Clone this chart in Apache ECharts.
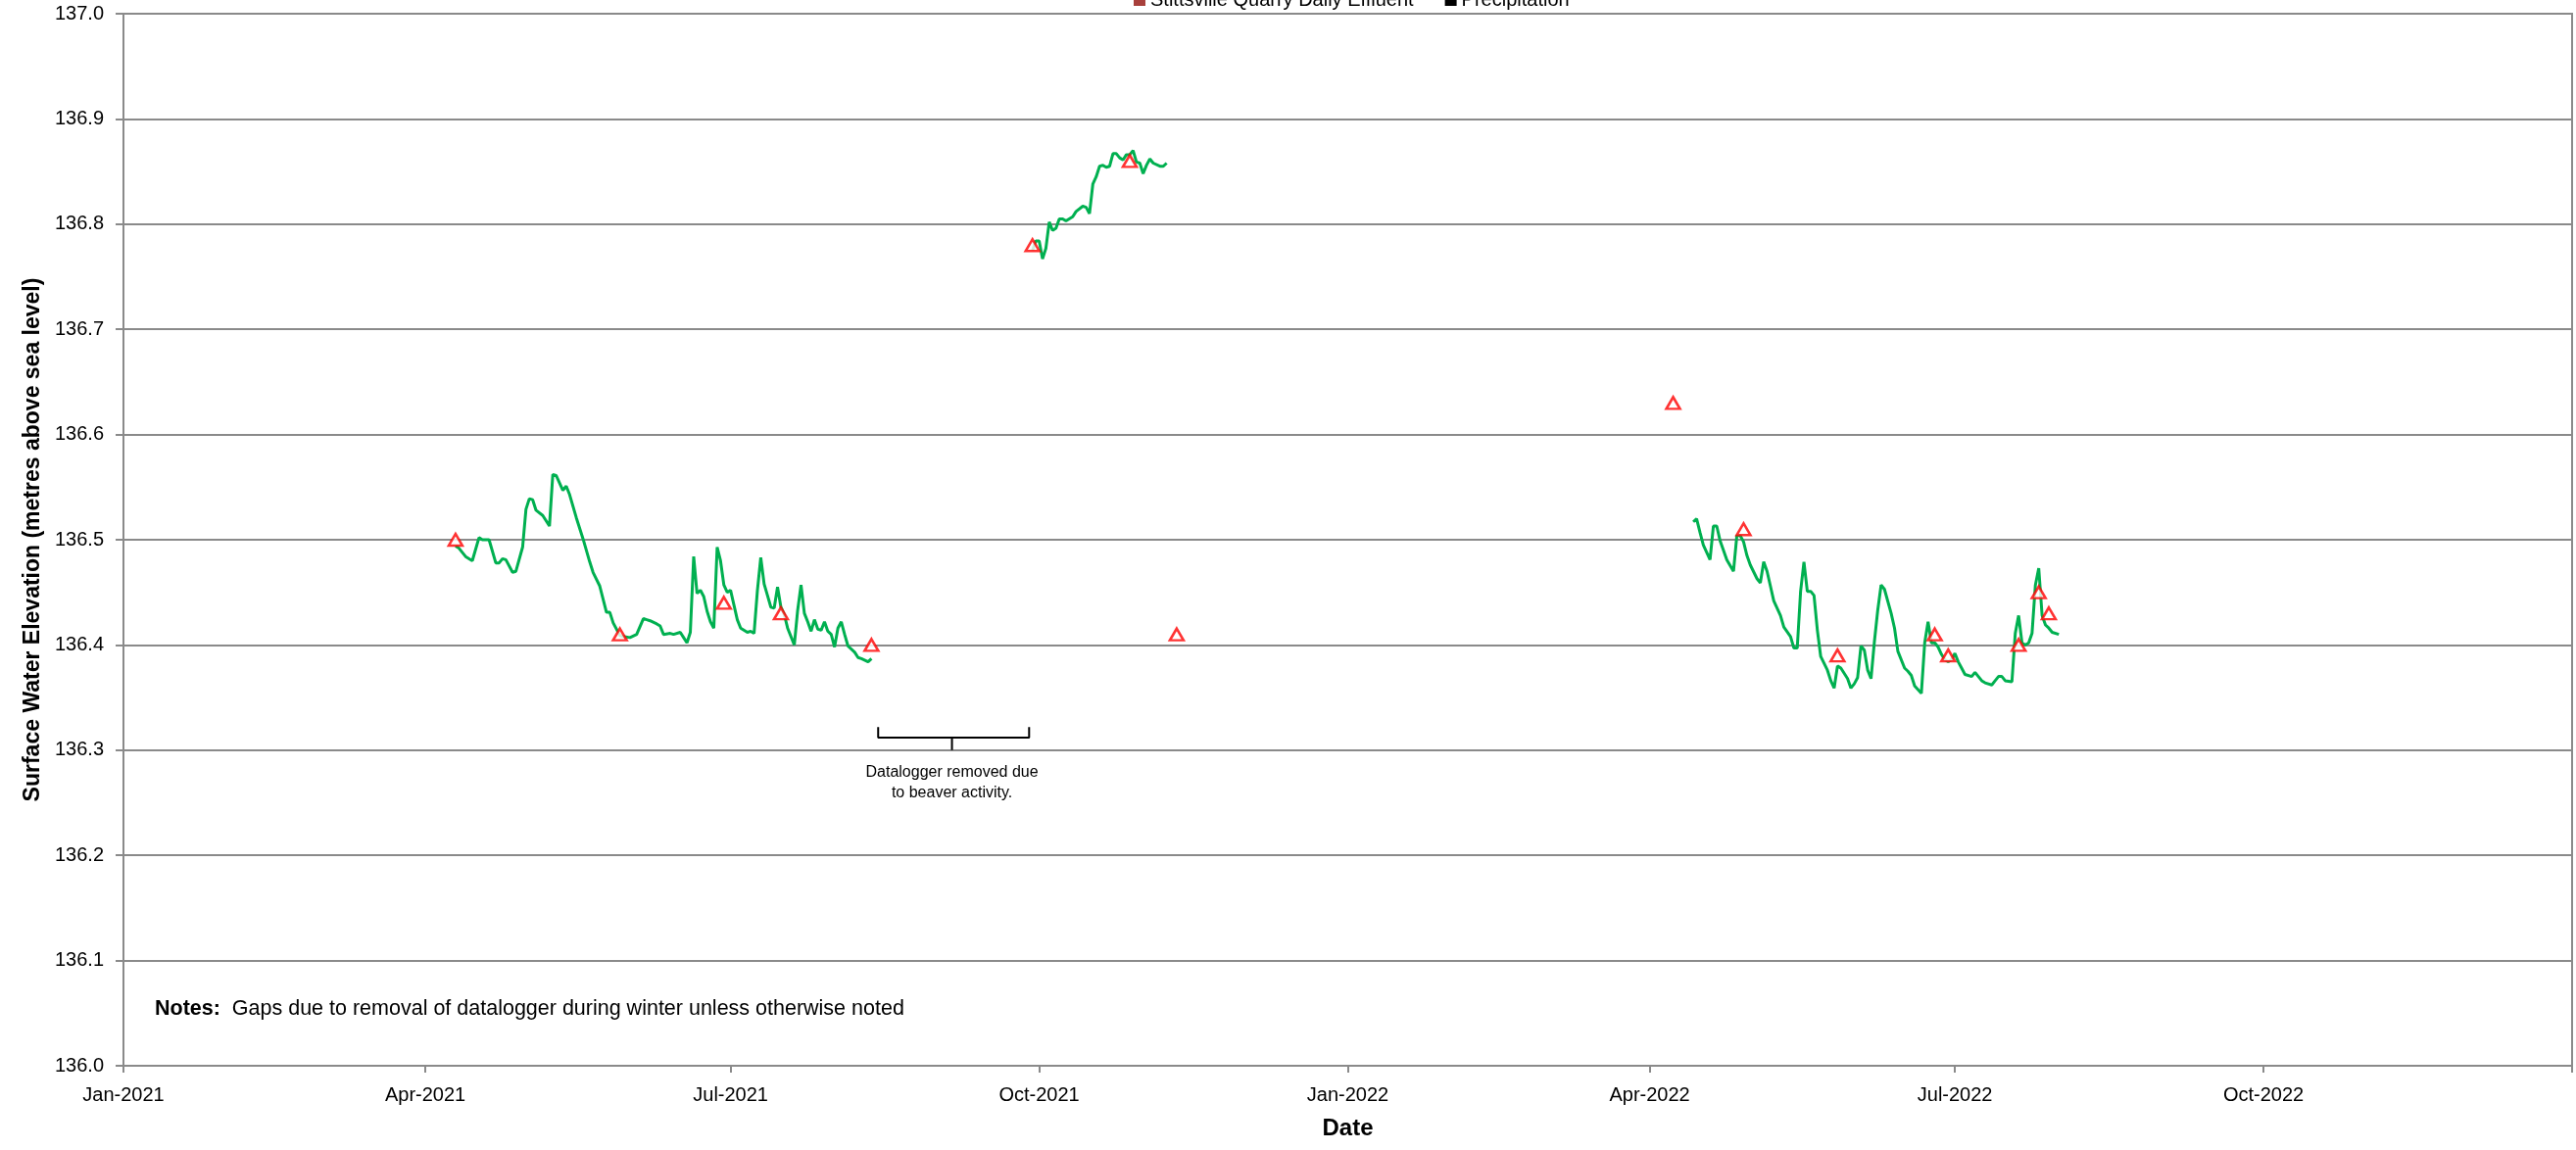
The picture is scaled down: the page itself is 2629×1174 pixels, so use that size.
<!DOCTYPE html>
<html>
<head>
<meta charset="utf-8">
<script src="https://cdn.jsdelivr.net/npm/echarts@6/dist/echarts.min.js"></script>
<style>
html,body{margin:0;padding:0;background:#fff;}
#chart{width:2629px;height:1174px;}
</style>
</head>
<body>
<div id="chart"></div>
<script>
// ---------- DATA ----------
const xTickDates = ['2021-01-01','2021-04-01','2021-07-01','2021-10-01','2022-01-01','2022-04-01','2022-07-01','2022-10-01','2023-01-01'];
const xTickLabels = ['Jan-2021','Apr-2021','Jul-2021','Oct-2021','Jan-2022','Apr-2022','Jul-2022','Oct-2022'];

// Datalogger record, segment 1 (spring/summer 2021)
const logger1Dates = ['2021-04-10','2021-04-11','2021-04-13','2021-04-15','2021-04-17','2021-04-18','2021-04-20','2021-04-22','2021-04-23','2021-04-24','2021-04-25','2021-04-27','2021-04-28','2021-04-30','2021-05-01','2021-05-02','2021-05-03','2021-05-04','2021-05-06','2021-05-08','2021-05-09','2021-05-10','2021-05-12','2021-05-13','2021-05-14','2021-05-16','2021-05-18','2021-05-20','2021-05-21','2021-05-23','2021-05-25','2021-05-26','2021-05-27','2021-05-29','2021-05-30','2021-06-01','2021-06-03','2021-06-05','2021-06-06','2021-06-07','2021-06-09','2021-06-10','2021-06-11','2021-06-13','2021-06-14','2021-06-16','2021-06-17','2021-06-18','2021-06-19','2021-06-20','2021-06-21','2021-06-22','2021-06-23','2021-06-24','2021-06-25','2021-06-26','2021-06-27','2021-06-28','2021-06-29','2021-06-30','2021-07-01','2021-07-02','2021-07-03','2021-07-04','2021-07-06','2021-07-07','2021-07-08','2021-07-09','2021-07-10','2021-07-11','2021-07-12','2021-07-13','2021-07-14','2021-07-15','2021-07-16','2021-07-17','2021-07-18','2021-07-20','2021-07-21','2021-07-22','2021-07-23','2021-07-24','2021-07-25','2021-07-26','2021-07-27','2021-07-28','2021-07-29','2021-07-30','2021-07-31','2021-08-01','2021-08-02','2021-08-03','2021-08-04','2021-08-05','2021-08-07','2021-08-08','2021-08-09','2021-08-11','2021-08-12'];
const logger1Values = [136.494,136.492,136.484,136.480,136.502,136.500,136.500,136.478,136.478,136.482,136.481,136.469,136.470,136.493,136.529,136.539,136.538,136.528,136.523,136.513,136.562,136.561,136.547,136.551,136.543,136.521,136.501,136.479,136.469,136.456,136.431,136.431,136.421,136.409,136.408,136.407,136.410,136.425,136.424,136.423,136.420,136.418,136.410,136.411,136.410,136.412,136.407,136.402,136.412,136.484,136.449,136.452,136.446,136.432,136.422,136.416,136.493,136.480,136.457,136.450,136.452,136.438,136.424,136.416,136.412,136.413,136.411,136.452,136.483,136.458,136.447,136.436,136.435,136.455,136.436,136.429,136.416,136.400,136.433,136.457,136.430,136.422,136.413,136.424,136.415,136.414,136.422,136.413,136.410,136.398,136.416,136.422,136.410,136.399,136.393,136.388,136.387,136.384,136.387];

// Datalogger record, segment 2 (autumn 2021)
const logger2Dates = ['2021-09-29','2021-09-30','2021-10-01','2021-10-02','2021-10-03','2021-10-04','2021-10-05','2021-10-06','2021-10-07','2021-10-08','2021-10-09','2021-10-11','2021-10-12','2021-10-14','2021-10-15','2021-10-16','2021-10-17','2021-10-18','2021-10-19','2021-10-20','2021-10-21','2021-10-22','2021-10-23','2021-10-24','2021-10-25','2021-10-26','2021-10-27','2021-10-28','2021-10-29','2021-10-30','2021-10-31','2021-11-01','2021-11-02','2021-11-03','2021-11-04','2021-11-06','2021-11-07','2021-11-08'];
const logger2Values = [136.775,136.784,136.784,136.767,136.777,136.802,136.794,136.796,136.805,136.805,136.803,136.807,136.812,136.817,136.816,136.810,136.838,136.845,136.855,136.856,136.854,136.855,136.867,136.867,136.863,136.861,136.866,136.866,136.870,136.859,136.858,136.848,136.856,136.862,136.858,136.855,136.855,136.858];

// Datalogger record, segment 3 (spring/summer 2022)
const logger3Dates = ['2022-04-14','2022-04-15','2022-04-16','2022-04-17','2022-04-19','2022-04-20','2022-04-21','2022-04-22','2022-04-23','2022-04-24','2022-04-26','2022-04-27','2022-04-28','2022-04-29','2022-04-30','2022-05-01','2022-05-03','2022-05-04','2022-05-05','2022-05-06','2022-05-07','2022-05-08','2022-05-10','2022-05-11','2022-05-13','2022-05-14','2022-05-15','2022-05-16','2022-05-17','2022-05-18','2022-05-19','2022-05-20','2022-05-21','2022-05-22','2022-05-24','2022-05-25','2022-05-26','2022-05-27','2022-05-28','2022-05-30','2022-05-31','2022-06-01','2022-06-02','2022-06-03','2022-06-04','2022-06-05','2022-06-06','2022-06-07','2022-06-08','2022-06-09','2022-06-10','2022-06-12','2022-06-13','2022-06-14','2022-06-16','2022-06-17','2022-06-18','2022-06-19','2022-06-21','2022-06-22','2022-06-23','2022-06-24','2022-06-25','2022-06-26','2022-06-27','2022-06-28','2022-06-29','2022-06-30','2022-07-01','2022-07-02','2022-07-03','2022-07-04','2022-07-06','2022-07-07','2022-07-08','2022-07-09','2022-07-10','2022-07-12','2022-07-13','2022-07-14','2022-07-15','2022-07-16','2022-07-18','2022-07-19','2022-07-20','2022-07-21','2022-07-22','2022-07-23','2022-07-24','2022-07-25','2022-07-26','2022-07-27','2022-07-28','2022-07-29','2022-07-30','2022-08-01'];
const logger3Values = [136.517,136.520,136.507,136.495,136.481,136.513,136.513,136.499,136.490,136.481,136.470,136.504,136.504,136.498,136.485,136.476,136.463,136.459,136.479,136.470,136.456,136.442,136.428,136.417,136.408,136.397,136.397,136.451,136.479,136.451,136.451,136.447,136.414,136.389,136.376,136.366,136.359,136.380,136.378,136.368,136.359,136.363,136.369,136.399,136.395,136.376,136.368,136.403,136.433,136.457,136.453,136.430,136.416,136.394,136.378,136.375,136.371,136.361,136.354,136.402,136.422,136.402,136.402,136.398,136.391,136.386,136.384,136.386,136.392,136.384,136.378,136.372,136.370,136.374,136.370,136.366,136.364,136.362,136.366,136.370,136.370,136.366,136.365,136.411,136.428,136.402,136.400,136.402,136.411,136.457,136.473,136.428,136.419,136.416,136.412,136.410];

// Manual water level measurements (triangles)
const manualDates = ['2021-04-10','2021-05-29','2021-06-29','2021-07-16','2021-08-12','2021-09-29','2021-10-28','2021-11-11','2022-04-08','2022-04-29','2022-05-27','2022-06-25','2022-06-29','2022-07-20','2022-07-26','2022-07-29'];
const manualValues = [136.50,136.41,136.44,136.43,136.40,136.78,136.86,136.41,136.63,136.51,136.39,136.41,136.39,136.40,136.45,136.43];

// Annotation (bracket for beaver removal period)
const bracketStart = '2021-08-14';
const bracketMid = '2021-09-05';
const bracketEnd = '2021-09-28';
const bracketText = 'Datalogger removed due\nto beaver activity.';
const notesBold = 'Notes:';
const notesText = '  Gaps due to removal of datalogger during winter unless otherwise noted';

// ---------- HELPERS ----------
function ts(s){ const p = s.split('-').map(Number); return Date.UTC(p[0], p[1]-1, p[2]); }
function pairs(dates, vals){ return dates.map((d,i)=>[ts(d), vals[i]]); }

const FONT = '"Liberation Sans", Arial, sans-serif';
const GRIDC = '#8a8a8a';
const tickTs = xTickDates.map(ts);
const labelTs = tickTs.slice(0, xTickLabels.length);

const loggerSeries = [[logger1Dates,logger1Values],[logger2Dates,logger2Values],[logger3Dates,logger3Values]].map((s,i)=>({
  name: 'Surface Water Elevation',
  type: 'line',
  data: pairs(s[0], s[1]),
  showSymbol: false,
  symbol: 'none',
  lineStyle: {color: '#00B050', width: 3},
  itemStyle: {color: '#00B050'},
  z: 3
}));

const chart = echarts.init(document.getElementById('chart'), null, {renderer: 'canvas'});
chart.setOption({
  animation: false,
  backgroundColor: '#fff',
  grid: {left: 126, right: 4, top: 14, bottom: 86, show: true, borderColor: GRIDC, borderWidth: 2, containLabel: false, outerBoundsMode: 'none'},
  legend: {
    left: 1152, top: -15,
    itemWidth: 12, itemHeight: 12, itemGap: 32,
    icon: 'rect',
    textStyle: {fontFamily: FONT, fontSize: 20, color: '#000'},
    data: ['Stittsville Quarry Daily Effluent', 'Precipitation'],
    selectedMode: false
  },
  xAxis: {
    type: 'value',
    min: tickTs[0], max: tickTs[tickTs.length-1],
    name: 'Date', nameLocation: 'middle', nameGap: 52,
    nameTextStyle: {fontFamily: FONT, fontSize: 24, fontWeight: 'bold', color: '#000'},
    axisLine: {show: true, onZero: false, lineStyle: {color: GRIDC, width: 2}},
    axisTick: {show: true, customValues: tickTs, length: 7, lineStyle: {color: GRIDC, width: 2}},
    axisLabel: {
      customValues: labelTs, margin: 20, showMinLabel: true, showMaxLabel: true,
      fontFamily: FONT, fontSize: 20, color: '#000',
      formatter: function(v){ const i = labelTs.indexOf(v); return i >= 0 ? xTickLabels[i] : ''; }
    },
    splitLine: {show: false},
    minorTick: {show: false}
  },
  yAxis: {
    type: 'value', min: 136, max: 137, interval: 0.1,
    name: 'Surface Water Elevation (metres above sea level)', nameLocation: 'middle', nameGap: 81,
    nameTextStyle: {fontFamily: FONT, fontSize: 23, fontWeight: 'bold', color: '#000'},
    axisLine: {show: true, lineStyle: {color: GRIDC, width: 2}},
    axisTick: {show: true, length: 8, lineStyle: {color: GRIDC, width: 2}},
    axisLabel: {margin: 20, fontFamily: FONT, fontSize: 20, color: '#000', formatter: v => v.toFixed(1)},
    splitLine: {show: true, lineStyle: {color: GRIDC, width: 2}}
  },
  series: loggerSeries.concat([
    {
      name: 'Manual Measurement', type: 'scatter',
      data: pairs(manualDates, manualValues),
      symbol: 'triangle', symbolSize: [14, 12],
      itemStyle: {color: '#ffffff', borderColor: '#FF0000', borderWidth: 2.5},
      z: 5
    },
    {
      name: 'Stittsville Quarry Daily Effluent', type: 'bar', data: [],
      itemStyle: {color: '#A8403C'}
    },
    {
      name: 'Precipitation', type: 'bar', data: [],
      itemStyle: {color: '#000000'}
    },
    {
      name: 'bracket', type: 'line', symbol: 'none', z: 4,
      lineStyle: {color: '#000', width: 2},
      data: [
        [ts(bracketStart), 136.322], [ts(bracketStart), 136.312], [ts(bracketMid), 136.312],
        [ts(bracketMid), 136.300], [ts(bracketMid), 136.312], [ts(bracketEnd), 136.312], [ts(bracketEnd), 136.322]
      ],
      markPoint: {
        symbol: 'circle', symbolSize: 1,
        itemStyle: {color: 'rgba(0,0,0,0)'},
        label: {show: true, position: 'inside', formatter: bracketText, fontFamily: FONT, fontSize: 16, lineHeight: 21, color: '#000', align: 'center'},
        data: [{coord: [ts(bracketMid), 136.269], value: 0}]
      }
    }
  ]),
  graphic: [{
    type: 'text', left: 158, top: 1019,
    style: {
      text: '{b|' + notesBold + '}{n|' + notesText + '}',
      rich: {
        b: {fontFamily: FONT, fontSize: 21.5, fontWeight: 'bold', fill: '#000'},
        n: {fontFamily: FONT, fontSize: 21.5, fill: '#000'}
      }
    }
  }]
});
</script>
</body>
</html>
